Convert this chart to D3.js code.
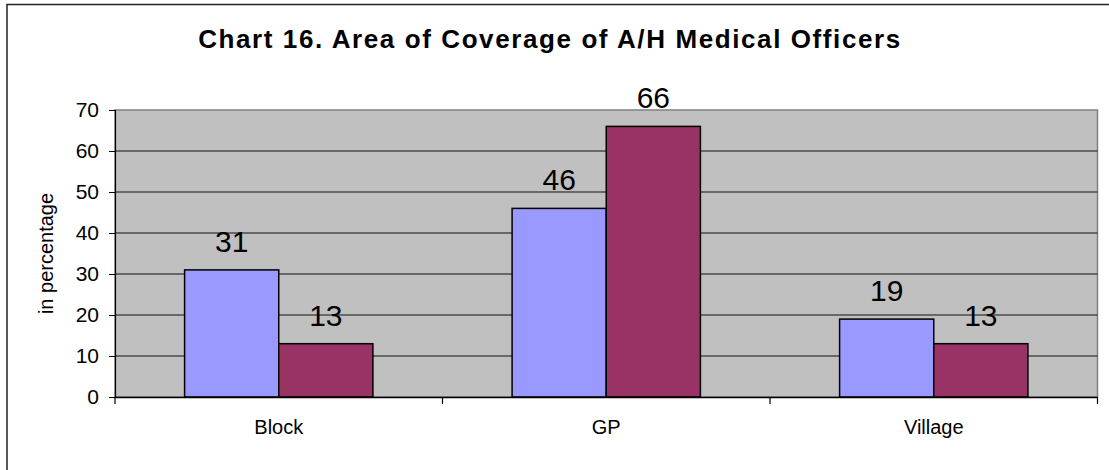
<!DOCTYPE html>
<html>
<head>
<meta charset="utf-8">
<script src="https://cdn.jsdelivr.net/npm/d3@7"></script>
<style>
  html, body { margin: 0; padding: 0; background: #fff; }
  svg { display: block; font-family: Arial, "Liberation Sans", sans-serif; }
</style>
</head>
<body>
<svg id="chart" width="1109" height="470"></svg>
<script>
const title = "Chart 16. Area of Coverage of A/H Medical Officers";
const yAxisTitle = "in percentage";
const categories = ["Block", "GP", "Village"];
const seriesA = [31, 46, 19];
const seriesB = [13, 66, 13];
const yTicks = [0, 10, 20, 30, 40, 50, 60, 70];

const svg = d3.select("#chart");
const FONT = "Arial, 'Liberation Sans', sans-serif";
const plot = { left: 115, right: 1097.5, top: 110, bottom: 397 };

// outer frame
svg.append("rect")
  .attr("x", 7).attr("y", 4.5).attr("width", 1110).attr("height", 480)
  .attr("fill", "#fff").attr("stroke", "#222").attr("stroke-width", 1.5);

const x0 = d3.scaleBand().domain(categories).range([plot.left, plot.right]).paddingInner(0).paddingOuter(0);
const groupFrac = 0.575;
const x1 = d3.scaleBand().domain(["A", "B"]).range([0, x0.bandwidth() * groupFrac]);
const y = d3.scaleLinear().domain([0, 70]).range([plot.bottom, plot.top]);

// plot background
svg.append("rect")
  .attr("x", plot.left).attr("y", plot.top)
  .attr("width", plot.right - plot.left).attr("height", plot.bottom - plot.top)
  .attr("fill", "#C0C0C0").attr("stroke", "#808080").attr("stroke-width", 1.5);

// gridlines
svg.append("g").selectAll("line")
  .data(yTicks.filter(t => t > 0 && t < 70))
  .join("line")
  .attr("x1", plot.left).attr("x2", plot.right)
  .attr("y1", d => y(d)).attr("y2", d => y(d))
  .attr("stroke", "#111").attr("stroke-width", 1);

// bars
const data = categories.map((c, i) => ({ c, vals: [{ k: "A", v: seriesA[i] }, { k: "B", v: seriesB[i] }] }));
const colors = { A: "#9999FF", B: "#993366" };
const groups = svg.append("g").selectAll("g").data(data).join("g")
  .attr("transform", d => `translate(${x0(d.c) + x0.bandwidth() * (1 - groupFrac) / 2},0)`);

groups.selectAll("rect").data(d => d.vals).join("rect")
  .attr("x", d => x1(d.k))
  .attr("y", d => y(d.v))
  .attr("width", x1.bandwidth())
  .attr("height", d => plot.bottom - y(d.v))
  .attr("fill", d => colors[d.k])
  .attr("stroke", "#000").attr("stroke-width", 1.5);

groups.selectAll("text").data(d => d.vals).join("text")
  .attr("x", d => x1(d.k) + x1.bandwidth() / 2)
  .attr("y", d => y(d.v) - 18)
  .attr("text-anchor", "middle")
  .attr("font-size", 30)
  .attr("fill", "#000")
  .text(d => d.v);

// y axis
const yAxis = d3.axisLeft(y).tickValues(yTicks).tickSize(6).tickPadding(10).tickFormat(d3.format("d"));
const yg = svg.append("g").attr("transform", `translate(${plot.left},0)`).call(yAxis);
yg.select(".domain").attr("stroke", "#000").attr("stroke-width", 1.2);
yg.selectAll(".tick line").attr("stroke", "#000");
yg.selectAll(".tick text").attr("font-size", 21).attr("font-family", FONT).attr("fill", "#000");

// x axis
const xAxis = d3.axisBottom(x0).tickSize(0).tickPadding(23);
const xg = svg.append("g").attr("transform", `translate(0,${plot.bottom})`).call(xAxis);
xg.select(".domain").attr("stroke", "#000").attr("stroke-width", 1.5);
xg.selectAll(".tick text").attr("font-size", 20).attr("font-family", FONT).attr("fill", "#000");
// category separator ticks
const seps = [plot.left].concat(categories.map(c => x0(c) + x0.bandwidth()));
svg.append("g").selectAll("line").data(seps).join("line")
  .attr("x1", d => d).attr("x2", d => d)
  .attr("y1", plot.bottom).attr("y2", plot.bottom + 7)
  .attr("stroke", "#000").attr("stroke-width", 1.2);

// y axis title
svg.append("text")
  .attr("transform", `translate(53,${(plot.top + plot.bottom) / 2}) rotate(-90)`)
  .attr("text-anchor", "middle")
  .attr("font-size", 20)
  .attr("fill", "#000")
  .text(yAxisTitle);

// title
svg.append("text")
  .attr("x", 550).attr("y", 48)
  .attr("text-anchor", "middle")
  .attr("font-size", 26).attr("font-weight", "bold")
  .attr("letter-spacing", 1.6)
  .attr("fill", "#000")
  .text(title);
</script>
</body>
</html>
